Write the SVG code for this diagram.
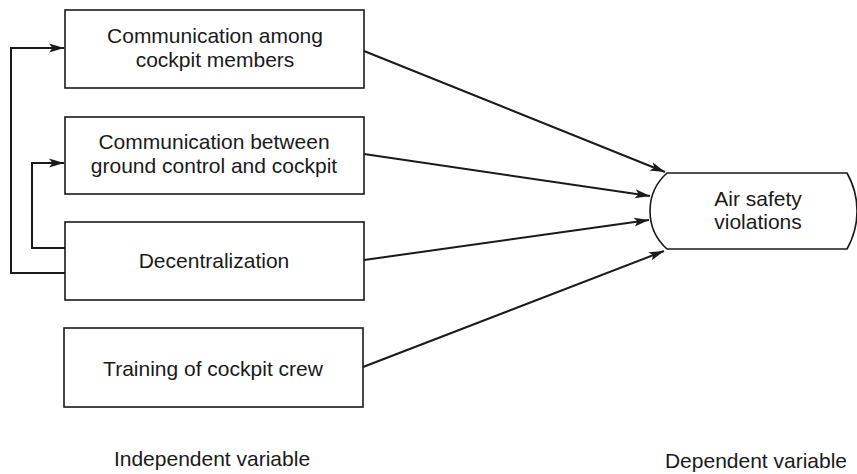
<svg xmlns="http://www.w3.org/2000/svg" width="857" height="474" viewBox="0 0 857 474">
  <style>
    .box { fill: #ffffff; stroke: #1a1a1a; stroke-width: 1.6; }
    .lbl { font-family: "Liberation Sans", Arial, sans-serif; font-size: 21px; fill: #1a1a1a; text-anchor: middle; }
    .edge { fill: none; stroke: #1a1a1a; stroke-width: 2; }
  </style>
  <defs>
    <marker id="arrow" markerUnits="userSpaceOnUse" markerWidth="18" markerHeight="12" refX="15" refY="6" orient="auto">
      <path d="M0,1.5 L15,6 L0,10.5 L3.5,6 Z" fill="#1a1a1a"/>
    </marker>
  </defs>
  <rect width="857" height="474" fill="#ffffff"/>

  <g id="node-cockpit-communication">
    <rect class="box" x="65" y="10" width="299" height="78"/>
    <text class="lbl" x="215" y="43">Communication among</text>
    <text class="lbl" x="215" y="67">cockpit members</text>
  </g>

  <g id="node-ground-communication">
    <rect class="box" x="65" y="117" width="299" height="77"/>
    <text class="lbl" x="214" y="149">Communication between</text>
    <text class="lbl" x="214" y="173">ground control and cockpit</text>
  </g>

  <g id="node-decentralization">
    <rect class="box" x="65" y="222" width="299" height="78"/>
    <text class="lbl" x="214" y="268">Decentralization</text>
  </g>

  <g id="node-training">
    <rect class="box" x="64" y="328" width="299" height="79"/>
    <text class="lbl" x="213" y="376">Training of cockpit crew</text>
  </g>

  <g id="node-air-safety">
    <path class="box" d="M667,173 L847,173 A77,77 0 0 1 847,249 L667,249 A51,51 0 0 1 667,173 Z"/>
    <text class="lbl" x="758" y="206">Air safety</text>
    <text class="lbl" x="758" y="229">violations</text>
  </g>

  <g id="connectors">
    <!-- feedback from decentralization to the communication boxes -->
    <path class="edge" d="M65,273 L11,273 L11,48 L64,48" marker-end="url(#arrow)"/>
    <path class="edge" d="M65,248 L32,248 L32,163 L64,163" marker-end="url(#arrow)"/>
    <!-- independent variables to the dependent variable -->
    <line class="edge" x1="364" y1="51" x2="665" y2="172" marker-end="url(#arrow)"/>
    <line class="edge" x1="364" y1="154" x2="650" y2="196" marker-end="url(#arrow)"/>
    <line class="edge" x1="364" y1="260" x2="649" y2="220" marker-end="url(#arrow)"/>
    <line class="edge" x1="363" y1="367" x2="664" y2="251" marker-end="url(#arrow)"/>
  </g>

  <g id="axis-labels">
    <text class="lbl" x="212" y="466">Independent variable</text>
    <text class="lbl" x="756" y="468">Dependent variable</text>
  </g>
</svg>
